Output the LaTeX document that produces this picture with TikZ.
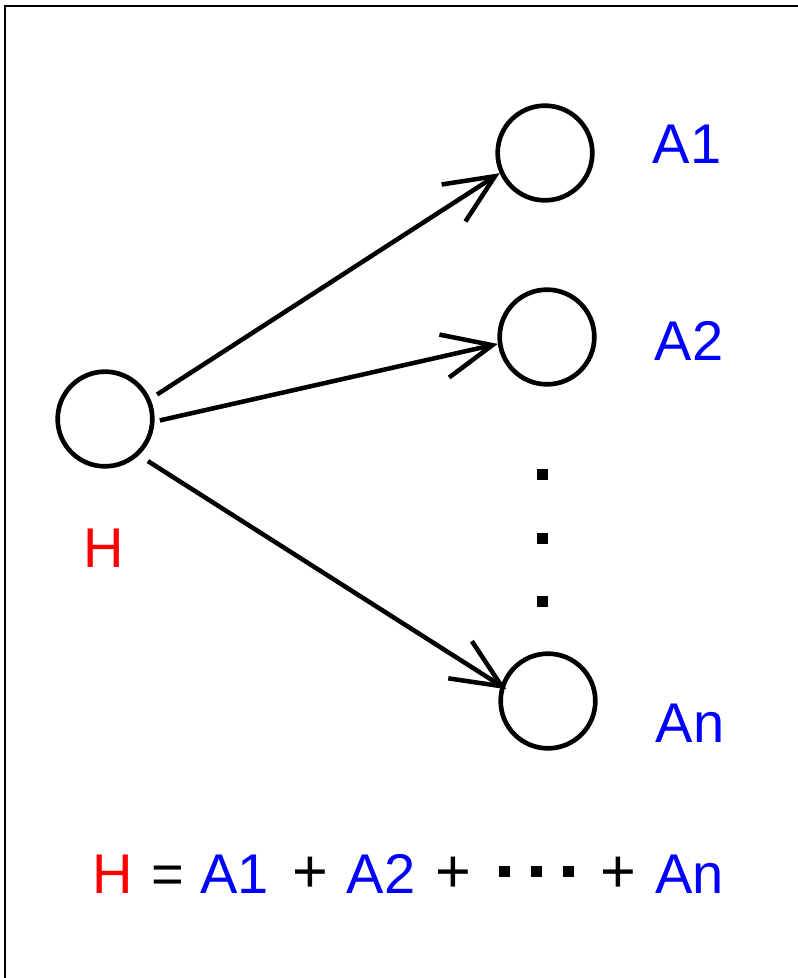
\documentclass[tikz,border=0pt]{standalone}
\usepackage{fontspec}
\setmainfont{Liberation Sans}
\usetikzlibrary{arrows.meta}
\definecolor{lblue}{RGB}{0,0,255}
\definecolor{lred}{RGB}{255,0,0}
\begin{document}
\begin{tikzpicture}[x=0.75pt,y=-0.75pt,
  vert/.style={circle,draw,line width=3.5pt,minimum size=71pt,inner sep=0pt},
  conn/.style={line width=3.4pt,-{Straight Barb[length=37pt,width=33pt,line width=3.4pt]}},
  lbl/.style={anchor=base,inner sep=0pt,font=\fontsize{42pt}{48pt}\selectfont},
  opr/.style={anchor=base,inner sep=0pt,font=\fontsize{46pt}{52pt}\selectfont},
  sq/.style={fill=black,inner sep=0pt,minimum size=8.25pt}]
\useasboundingbox (0,0) rectangle (798,978);
\draw[line width=1.5pt] (5,1000) -- (5,6) -- (820,6);
% vertices
\node[vert] (H) at (105,419) {};
\node[vert] (A1) at (545,153) {};
\node[vert] (A2) at (547,337) {};
\node[vert] (An) at (548,701) {};
% labels
\node[lbl,text=lblue] (lA1) at (687,163) {A1};
\node[lbl,text=lblue] (lA2) at (689,360) {A2};
\node[lbl,text=lblue] (lAn) at (690,742) {An};
\node[lbl,text=lred] (lH) at (104,567) {H};
% vertical dots
\node[sq] (d1) at (542.5,474.5) {};
\node[sq] (d2) at (542.5,538.5) {};
\node[sq] (d3) at (542.5,601.5) {};
% connectors
\draw[conn,shorten <=6pt] (H.24) -- (A1.204);
\draw[conn,shorten <=4pt] (H.-3) -- (A2.188);
\draw[conn,shorten <=8pt,shorten >=-5pt] (H.-47) -- (An.162);
% equation
\node[lbl,text=lred] (eH) at (112.5,893) {H};
\node[lbl] (eq) at (167.5,893) {=};
\node[lbl,text=lblue] (eA1) at (234.5,893) {A1};
\node[opr] (p1) at (310,892) {+};
\node[lbl,text=lblue] (eA2) at (381,893) {A2};
\node[opr] (p2) at (453,892) {+};
\node[sq] (e1) at (504.5,871) {};
\node[sq] (e2) at (536.5,871) {};
\node[sq] (e3) at (568.5,871) {};
\node[opr] (p3) at (618.5,892) {+};
\node[lbl,text=lblue] (eAn) at (689.5,893) {An};
\end{tikzpicture}
\end{document}
